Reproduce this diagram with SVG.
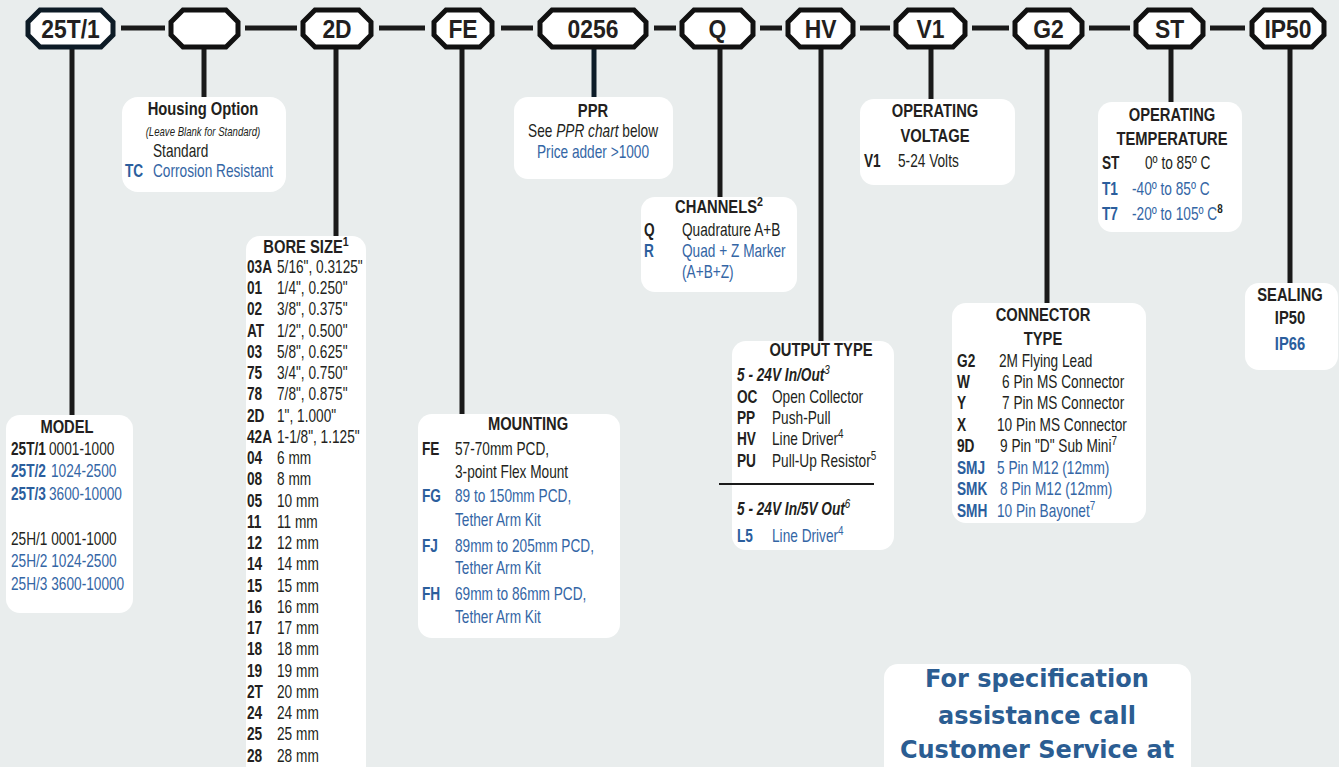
<svg xmlns="http://www.w3.org/2000/svg" width="1339" height="767" viewBox="0 0 1339 767">
<style>
.bg{fill:#e9eded}
.box{fill:#ffffff}
.oct{fill:#ffffff;stroke:#111111;stroke-width:5;stroke-linejoin:miter}
.ln{stroke:#1a1a1a;stroke-width:5;fill:none}
.dv{stroke:#1a1a1a;stroke-width:1.8}
text{font-family:"Liberation Sans",Arial,sans-serif;fill:#231f20}
.t{font-size:18px;transform-box:fill-box;transform-origin:0 0;transform:scaleX(.76)}
.m{font-size:18px;text-anchor:middle;transform-box:fill-box;transform-origin:50% 0;transform:scaleX(.76)}
.h{font-size:18px;font-weight:bold;text-anchor:middle;transform-box:fill-box;transform-origin:50% 0;transform:scaleX(.82)}
.o{font-size:26px;font-weight:bold;text-anchor:middle;transform-box:fill-box;transform-origin:50% 0;transform:scaleX(.88)}
.s{font-size:12px;font-style:italic;text-anchor:middle;transform-box:fill-box;transform-origin:50% 0;transform:scaleX(.8)}
.b{font-weight:bold}
.i{font-style:italic}
.u{fill:#3466a5}
.ub{fill:#2b5e9d}
.cs{font-family:"DejaVu Sans",Verdana,sans-serif;font-size:24px;font-weight:bold;fill:#2b5d92;text-anchor:middle}
</style>
<rect class="bg" x="0" y="0" width="1339" height="767"/>

<g id="connectors">
  <line class="ln" x1="121" y1="28" x2="165" y2="28"/>
  <line class="ln" x1="245" y1="28" x2="297" y2="28"/>
  <line class="ln" x1="379" y1="28" x2="425" y2="28"/>
  <line class="ln" x1="501" y1="28" x2="533" y2="28"/>
  <line class="ln" x1="654" y1="28" x2="676" y2="28"/>
  <line class="ln" x1="760" y1="28" x2="782" y2="28"/>
  <line class="ln" x1="860" y1="28" x2="890" y2="28"/>
  <line class="ln" x1="972" y1="28" x2="1009" y2="28"/>
  <line class="ln" x1="1089" y1="28" x2="1130" y2="28"/>
  <line class="ln" x1="1210" y1="28" x2="1245" y2="28"/>
  <line class="ln" x1="72" y1="47" x2="72" y2="416"/>
  <line class="ln" x1="204" y1="47" x2="204" y2="98"/>
  <line class="ln" x1="336" y1="47" x2="336" y2="237"/>
  <line class="ln" x1="462" y1="47" x2="462" y2="415"/>
  <line class="ln" x1="594" y1="47" x2="594" y2="98" style="stroke:#0d1c28"/>
  <line class="ln" x1="720" y1="47" x2="720" y2="198"/>
  <line class="ln" x1="821" y1="47" x2="821" y2="342"/>
  <line class="ln" x1="931" y1="47" x2="931" y2="100"/>
  <line class="ln" x1="1047" y1="47" x2="1047" y2="304"/>
  <line class="ln" x1="1171" y1="47" x2="1171" y2="103"/>
  <line class="ln" x1="1290" y1="47" x2="1290" y2="284"/>
</g>

<g id="oct-model"><path class="oct" style="stroke:#0d1b26" d="M40,10 H101 L113,22 V35 L101,47 H40 L28,35 V22 Z"/><text class="o" x="70.5" y="38">25T/1</text></g>
<g id="oct-housing"><path class="oct" d="M183,10 H226 L238,22 V35 L226,47 H183 L171,35 V22 Z"/></g>
<g id="oct-bore"><path class="oct" d="M315,10 H359 L371,22 V35 L359,47 H315 L303,35 V22 Z"/><text class="o" x="337" y="38">2D</text></g>
<g id="oct-mount"><path class="oct" d="M446,10 H480 L492,22 V35 L480,47 H446 L434,35 V22 Z"/><text class="o" x="463" y="38">FE</text></g>
<g id="oct-ppr"><path class="oct" d="M552,10 H634 L646,22 V35 L634,47 H552 L540,35 V22 Z"/><text class="o" x="593" y="38">0256</text></g>
<g id="oct-channels"><path class="oct" d="M694,10 H741 L753,22 V35 L741,47 H694 L682,35 V22 Z"/><text class="o" x="717.5" y="38">Q</text></g>
<g id="oct-output"><path class="oct" d="M800,10 H841 L853,22 V35 L841,47 H800 L788,35 V22 Z"/><text class="o" x="820.5" y="38">HV</text></g>
<g id="oct-voltage"><path class="oct" d="M908,10 H953 L965,22 V35 L953,47 H908 L896,35 V22 Z"/><text class="o" x="930.5" y="38">V1</text></g>
<g id="oct-connector"><path class="oct" d="M1027,10 H1070 L1082,22 V35 L1070,47 H1027 L1015,35 V22 Z"/><text class="o" x="1048.5" y="38">G2</text></g>
<g id="oct-temp"><path class="oct" d="M1148,10 H1191 L1203,22 V35 L1191,47 H1148 L1136,35 V22 Z"/><text class="o" x="1169.5" y="38">ST</text></g>
<g id="oct-sealing"><path class="oct" d="M1264,10 H1312 L1324,22 V35 L1312,47 H1264 L1252,35 V22 Z"/><text class="o" x="1288" y="38">IP50</text></g>

<g id="housing">
  <rect class="box" x="122" y="97" width="164" height="95" rx="16"/>
  <text class="h" x="203" y="115">Housing Option</text>
  <text class="s" x="203" y="136">(Leave Blank for Standard)</text>
  <text class="t" x="153" y="157">Standard</text>
  <text class="t b ub" x="125" y="177">TC</text>
  <text class="t u" x="153" y="177">Corrosion Resistant</text>
</g>

<g id="model">
  <rect class="box" x="6" y="415" width="127" height="198" rx="14"/>
  <text class="h" x="67" y="433">MODEL</text>
  <text class="t b" x="11" y="455">25T/1</text><text class="t" x="49" y="455">0001-1000</text>
  <text class="t b ub" x="11" y="477">25T/2</text><text class="t u" x="51" y="477">1024-2500</text>
  <text class="t b ub" x="11" y="500">25T/3</text><text class="t u" x="49" y="500">3600-10000</text>
  <text class="t" x="11" y="545">25H/1 0001-1000</text>
  <text class="t u" x="11" y="567">25H/2 1024-2500</text>
  <text class="t u" x="11" y="590">25H/3 3600-10000</text>
</g>

<g id="bore">
  <rect class="box" x="246" y="236" width="120" height="560" rx="14"/>
  <text class="h" x="306" y="253">BORE SIZE<tspan font-size="13" dy="-7">1</tspan></text>
  <text class="t b" x="247" y="273">03A</text><text class="t" x="277" y="273">5/16", 0.3125"</text>
  <text class="t b" x="247" y="294.25">01</text><text class="t" x="277" y="294.25">1/4", 0.250"</text>
  <text class="t b" x="247" y="315.5">02</text><text class="t" x="277" y="315.5">3/8", 0.375"</text>
  <text class="t b" x="247" y="336.75">AT</text><text class="t" x="277" y="336.75">1/2", 0.500"</text>
  <text class="t b" x="247" y="358">03</text><text class="t" x="277" y="358">5/8", 0.625"</text>
  <text class="t b" x="247" y="379.25">75</text><text class="t" x="277" y="379.25">3/4", 0.750"</text>
  <text class="t b" x="247" y="400.5">78</text><text class="t" x="277" y="400.5">7/8", 0.875"</text>
  <text class="t b" x="247" y="421.75">2D</text><text class="t" x="277" y="421.75">1", 1.000"</text>
  <text class="t b" x="247" y="443">42A</text><text class="t" x="277" y="443">1-1/8", 1.125"</text>
  <text class="t b" x="247" y="464.25">04</text><text class="t" x="277" y="464.25">6 mm</text>
  <text class="t b" x="247" y="485.5">08</text><text class="t" x="277" y="485.5">8 mm</text>
  <text class="t b" x="247" y="506.75">05</text><text class="t" x="277" y="506.75">10 mm</text>
  <text class="t b" x="247" y="528">11</text><text class="t" x="277" y="528">11 mm</text>
  <text class="t b" x="247" y="549.25">12</text><text class="t" x="277" y="549.25">12 mm</text>
  <text class="t b" x="247" y="570.5">14</text><text class="t" x="277" y="570.5">14 mm</text>
  <text class="t b" x="247" y="591.75">15</text><text class="t" x="277" y="591.75">15 mm</text>
  <text class="t b" x="247" y="613">16</text><text class="t" x="277" y="613">16 mm</text>
  <text class="t b" x="247" y="634.25">17</text><text class="t" x="277" y="634.25">17 mm</text>
  <text class="t b" x="247" y="655.5">18</text><text class="t" x="277" y="655.5">18 mm</text>
  <text class="t b" x="247" y="676.75">19</text><text class="t" x="277" y="676.75">19 mm</text>
  <text class="t b" x="247" y="698">2T</text><text class="t" x="277" y="698">20 mm</text>
  <text class="t b" x="247" y="719.25">24</text><text class="t" x="277" y="719.25">24 mm</text>
  <text class="t b" x="247" y="740.5">25</text><text class="t" x="277" y="740.5">25 mm</text>
  <text class="t b" x="247" y="761.75">28</text><text class="t" x="277" y="761.75">28 mm</text>
</g>

<g id="mounting">
  <rect class="box" x="418" y="414" width="202" height="224" rx="14"/>
  <text class="h" x="528" y="430">MOUNTING</text>
  <text class="t b" x="422" y="455">FE</text><text class="t" x="455" y="455">57-70mm PCD,</text>
  <text class="t" x="455" y="478">3-point Flex Mount</text>
  <text class="t b ub" x="422" y="502">FG</text><text class="t u" x="455" y="502">89 to 150mm PCD,</text>
  <text class="t u" x="455" y="526">Tether Arm Kit</text>
  <text class="t b ub" x="422" y="552">FJ</text><text class="t u" x="455" y="552">89mm to 205mm PCD,</text>
  <text class="t u" x="455" y="574">Tether Arm Kit</text>
  <text class="t b ub" x="422" y="600">FH</text><text class="t u" x="455" y="600">69mm to 86mm PCD,</text>
  <text class="t u" x="455" y="623">Tether Arm Kit</text>
</g>

<g id="ppr">
  <rect class="box" x="514" y="97" width="159" height="82" rx="14"/>
  <text class="h" x="593" y="117">PPR</text>
  <text class="m" x="593" y="137">See <tspan class="i">PPR chart</tspan> below</text>
  <text class="m u" x="593" y="158">Price adder &gt;1000</text>
</g>

<g id="channels">
  <rect class="box" x="641" y="197" width="156" height="95" rx="14"/>
  <text class="h" x="719" y="213">CHANNELS<tspan font-size="13" dy="-7">2</tspan></text>
  <text class="t b" x="644" y="236">Q</text><text class="t" x="682" y="236">Quadrature A+B</text>
  <text class="t b ub" x="644" y="257">R</text><text class="t u" x="682" y="257">Quad + Z Marker</text>
  <text class="t u" x="682" y="278">(A+B+Z)</text>
</g>

<g id="output">
  <rect class="box" x="732" y="341" width="162" height="209" rx="14"/>
  <text class="h" x="821" y="356">OUTPUT TYPE</text>
  <text class="t b i" x="737" y="381">5 - 24V In/Out<tspan font-size="13" font-weight="normal" dy="-7">3</tspan></text>
  <text class="t b" x="737" y="403">OC</text><text class="t" x="772" y="403">Open Collector</text>
  <text class="t b" x="737" y="424">PP</text><text class="t" x="772" y="424">Push-Pull</text>
  <text class="t b" x="737" y="445">HV</text><text class="t" x="772" y="445">Line Driver<tspan font-size="13" dy="-7">4</tspan></text>
  <text class="t b" x="737" y="467">PU</text><text class="t" x="772" y="467">Pull-Up Resistor<tspan font-size="13" dy="-7">5</tspan></text>
  <line class="dv" x1="719" y1="484" x2="874" y2="484"/>
  <text class="t b i" x="737" y="515">5 - 24V In/5V Out<tspan font-size="13" font-weight="normal" dy="-7">6</tspan></text>
  <text class="t b ub" x="737" y="542">L5</text><text class="t u" x="772" y="542">Line Driver<tspan font-size="13" dy="-7">4</tspan></text>
</g>

<g id="voltage">
  <rect class="box" x="860" y="99" width="155" height="86" rx="14"/>
  <text class="h" x="935" y="117">OPERATING</text>
  <text class="h" x="935" y="142">VOLTAGE</text>
  <text class="t b" x="864" y="167">V1</text><text class="t" x="898" y="167">5-24 Volts</text>
</g>

<g id="temperature">
  <rect class="box" x="1098" y="102" width="144" height="130" rx="14"/>
  <text class="h" x="1172" y="121">OPERATING</text>
  <text class="h" x="1172" y="145">TEMPERATURE</text>
  <text class="t b" x="1102" y="169">ST</text><text class="t" x="1145" y="169">0º to 85º C</text>
  <text class="t b ub" x="1102" y="195">T1</text><text class="t u" x="1132" y="195">-40º to 85º C</text>
  <text class="t b ub" x="1102" y="220">T7</text><text class="t u" x="1132" y="220">-20º to 105º C<tspan font-size="13" font-weight="bold" fill="#231f20" dy="-7">8</tspan></text>
</g>

<g id="connector">
  <rect class="box" x="952" y="303" width="194" height="220" rx="14"/>
  <text class="h" x="1043" y="321">CONNECTOR</text>
  <text class="h" x="1043" y="345">TYPE</text>
  <text class="t b" x="957" y="367">G2</text><text class="t" x="999" y="367">2M Flying Lead</text>
  <text class="t b" x="957" y="388">W</text><text class="t" x="1002" y="388">6 Pin MS Connector</text>
  <text class="t b" x="957" y="409">Y</text><text class="t" x="1002" y="409">7 Pin MS Connector</text>
  <text class="t b" x="957" y="431">X</text><text class="t" x="997" y="431">10 Pin MS Connector</text>
  <text class="t b" x="957" y="452">9D</text><text class="t" x="1000" y="452">9 Pin "D" Sub Mini<tspan font-size="13" dy="-7">7</tspan></text>
  <text class="t b ub" x="957" y="474">SMJ</text><text class="t u" x="997" y="474">5 Pin M12 (12mm)</text>
  <text class="t b ub" x="957" y="495">SMK</text><text class="t u" x="1000" y="495">8 Pin M12 (12mm)</text>
  <text class="t b ub" x="957" y="517">SMH</text><text class="t u" x="997" y="517">10 Pin Bayonet<tspan font-size="13" dy="-7">7</tspan></text>
</g>

<g id="sealing">
  <rect class="box" x="1245" y="283" width="93" height="87" rx="14"/>
  <text class="h" x="1290" y="301">SEALING</text>
  <text class="h" x="1290" y="324">IP50</text>
  <text class="h ub" x="1290" y="350">IP66</text>
</g>

<g id="customer-service">
  <rect class="box" x="884" y="664" width="307" height="130" rx="14"/>
  <text class="cs" x="1037" y="687">For specification</text>
  <text class="cs" x="1037" y="724">assistance call</text>
  <text class="cs" x="1037" y="758">Customer Service at</text>
</g>
</svg>
